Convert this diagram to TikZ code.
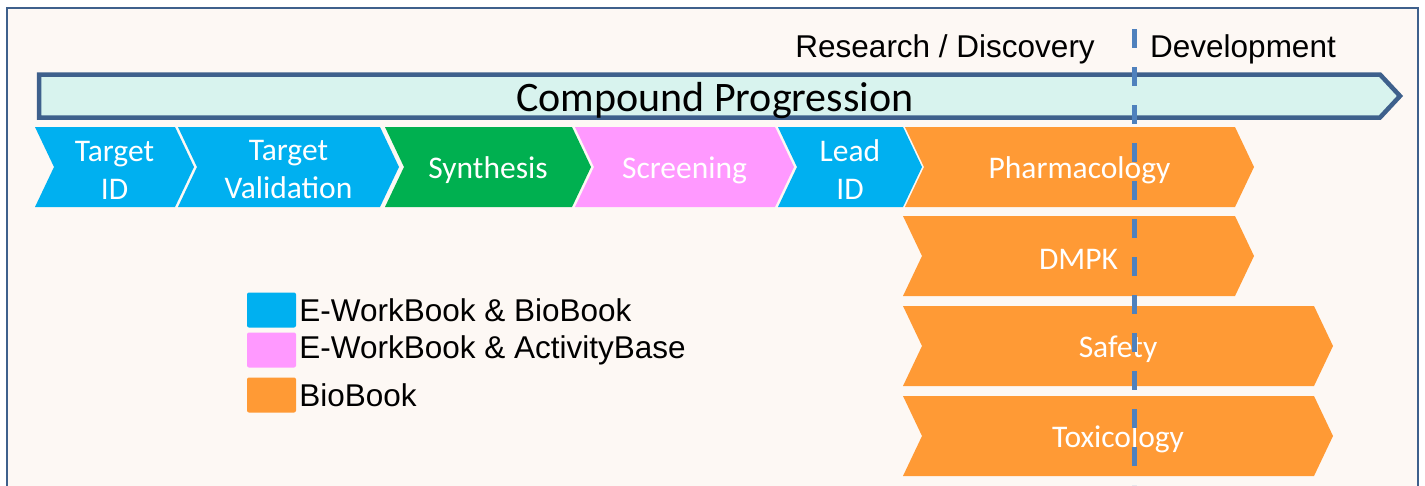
\documentclass[tikz,border=0pt]{standalone}
\usepackage{fontspec}
\setmainfont{Carlito}
\newfontfamily\arialfont{Liberation Sans}
\usetikzlibrary{positioning}

\definecolor{framecol}{RGB}{62,96,140}
\definecolor{panelfill}{RGB}{253,248,244}
\definecolor{arrowfill}{RGB}{216,243,238}
\definecolor{stageblue}{RGB}{0,176,240}
\definecolor{stagegreen}{RGB}{0,176,80}
\definecolor{stagepink}{RGB}{255,153,255}
\definecolor{stageorange}{RGB}{255,154,53}
\definecolor{divcol}{RGB}{79,129,189}

\tikzstyle{stagetext}=[text=white,align=center,inner sep=0pt,font=\fontsize{31.5}{38}\selectfont]
\tikzstyle{keybox}=[minimum width=49pt,minimum height=35pt,inner sep=0pt,rounded corners=2pt]
\tikzstyle{keytext}=[inner sep=0pt,font=\arialfont\fontsize{31.5}{38}\selectfont]
\tikzstyle{phase}=[inner sep=0pt,font=\arialfont\fontsize{31.5}{38}\selectfont]

% name, left x, right x, top y, colour, label
\newcommand{\stage}[6]{%
  \fill[#5] (#2,#4) -- (#3,#4) -- ++(19,40) -- (#3,#4+80) -- (#2,#4+80) -- ++(19,-40) -- cycle;
  \node[stagetext] (#1) at ({(#2+19+#3)/2},#4+43) {#6};
}

\begin{document}
\begin{tikzpicture}[x=1pt,y=-1pt]

\useasboundingbox (0,0) rectangle (1425,485);
\draw[framecol,line width=2pt,fill=panelfill] (7,8) rectangle (1418,495);

% progression arrow
\draw[framecol,line width=4.5pt,line join=miter,fill=arrowfill]
  (39,74.5) -- (1380,74.5) -- (1400,96) -- (1380,117.5) -- (39,117.5) -- cycle;
\node[inner sep=0pt,font=\fontsize{42}{48}\selectfont] (prog) at (715,101) {Compound Progression};

\node[phase,anchor=base east] (research) at (1095,57) {Research / Discovery};
\node[phase,anchor=base west] (devel) at (1150,57) {Development};

% stages
\stage{tid}{35}{175}{127}{stageblue}{Target\\ID}
\stage{tval}{178}{380}{127}{stageblue}{Target\\Validation}
\stage{syn}{385}{572}{127}{stagegreen}{Synthesis}
\stage{scr}{575}{775}{127}{stagepink}{Screening}
\stage{lead}{778}{903}{127}{stageblue}{Lead\\ID}
\stage{pharm}{905}{1235}{127}{stageorange}{Pharmacology}
\stage{dmpk}{903}{1235}{216}{stageorange}{DMPK}
\stage{safe}{903}{1314}{306}{stageorange}{Safety}
\stage{tox}{903}{1314}{396}{stageorange}{Toxicology}

% legend
\node[keybox,fill=stageblue] (keyA) at (271.5,310) {};
\node[keybox,fill=stagepink] (keyB) at (271.5,350) {};
\node[keybox,fill=stageorange] (keyC) at (271.5,395) {};
\node[keytext,right=3pt of keyA] (txtA) {E-WorkBook \& BioBook};
\node[keytext,right=3pt of keyB] (txtB) {E-WorkBook \& ActivityBase};
\node[keytext,right=3pt of keyC] (txtC) {BioBook};

% research / development divide
\coordinate (divtop) at (1134,29);
\coordinate (divbot) at (1134,485);
\draw[divcol,line width=5pt,dash pattern=on 19pt off 19pt] (divtop) -- (divbot);

\end{tikzpicture}
\end{document}
